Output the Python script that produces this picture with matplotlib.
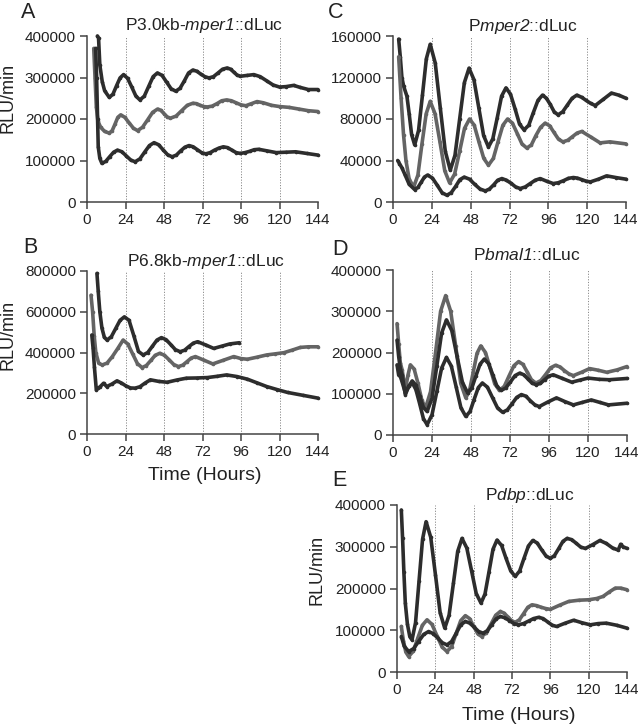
"""Bioluminescence traces, 5 reporters (A-E), 3 traces each."""

import matplotlib
matplotlib.use('Agg')
import matplotlib.pyplot as plt

plt.rcParams.update({
    'font.family': 'Liberation Sans',
    'mathtext.fontset': 'custom',
    'mathtext.rm': 'Liberation Sans:italic',
    'mathtext.it': 'Liberation Sans:italic',
    'font.size': 11,
    'xtick.labelsize': 11, 'ytick.labelsize': 11,
    'axes.linewidth': 1.1,
    'axes.edgecolor': '#444444',
    'xtick.color': '#444444', 'ytick.color': '#444444',
    'xtick.labelcolor': '#222222', 'ytick.labelcolor': '#222222',
    'xtick.major.size': 5, 'ytick.major.size': 5,
    'xtick.major.width': 1.1, 'ytick.major.width': 1.1,
})

W, H = 640, 727
DARK = '#2d2d2d'
GRAY = '#646464'
XTICKS = [0, 24, 48, 72, 96, 120, 144]

# ---- A: P3.0kb-mper1::dLuc ----
A_TOP_T = [6.5, 7.2, 8, 9.5, 11, 13.9, 16.2, 18.4, 20.6, 22.8, 25.3, 27.9, 30.5, 33, 35.7, 38.5,
           41.2, 43.9, 46.8, 49.6, 52.4, 55.3, 58, 60.7, 63.3, 66, 68.5, 71, 73.5, 76, 78.8,
           81.7, 84.5, 87.4, 89.5, 91.5, 93.5, 95.6, 99.8, 104, 108, 112, 116, 120, 124,
           128.8, 133, 138, 144]
A_TOP_V = [400000, 395000, 330000, 290000, 268000, 252000, 260000, 280000, 299000, 307000,
           298000, 277000, 255000, 246000, 255000, 279000, 302000, 311000, 305000, 289000,
           273000, 267000, 274000, 292000, 311000, 318000, 315000, 308000, 302000, 299000,
           302000, 311000, 320000, 323000, 320000, 313000, 306000, 303000, 305000, 307000,
           302000, 292000, 282000, 277000, 278000, 281000, 276000, 271000, 271000]
A_MID_T = [4.2, 5.0, 5.8, 6.8, 8.5, 11, 13.9, 15.7, 17.5, 19.2, 21, 23.6, 26.2, 28.9, 31.5,
           34.6, 37.8, 40.9, 44, 46, 48, 50, 52, 55.5, 59, 62.5, 66, 68.3, 70.5, 72.8, 75,
           78, 81, 84, 87, 90, 93, 96, 99, 102.5, 106, 110, 115, 120, 126, 132, 138, 144]
A_MID_V = [370000, 300000, 230000, 195000, 180000, 170000, 166000, 172000, 188000, 204000,
           210000, 204000, 191000, 178000, 172000, 180000, 198000, 216000, 224000, 221000,
           213000, 205000, 202000, 207000, 220000, 233000, 238000, 237000, 233000, 230000,
           229000, 231000, 237000, 244000, 246000, 244000, 239000, 234000, 232000, 237000,
           242000, 239000, 233000, 230000, 228000, 224000, 220000, 218000]
A_LOW_T = [5.4, 6.0, 6.6, 7.0, 8, 9.3, 11.7, 14.1, 16.6, 19, 21.8, 24.5, 27.3, 30, 33, 35.9,
           38.9, 41.8, 44.6, 47.4, 50.2, 53, 55.7, 58.3, 61, 63.6, 66.2, 68.8, 71.4, 74,
           76.8, 79.5, 82.3, 85, 87.7, 90.3, 93, 95.6, 98.5, 101.3, 104.2, 107, 112.5, 118,
           124, 130, 137, 144]
A_LOW_V = [370000, 300000, 200000, 133000, 105000, 93000, 98000, 109000, 120000, 125000,
           121000, 111000, 101000, 97000, 104000, 120000, 136000, 143000, 138000, 126000,
           114000, 109000, 113000, 123000, 132000, 136000, 133000, 126000, 119000, 116000,
           119000, 125000, 130000, 133000, 131000, 125000, 119000, 117000, 119000, 122000,
           126000, 127000, 123000, 119000, 120000, 121000, 117000, 113000]

# ---- B: P6.8kb-mper1::dLuc ----
B_TOP_T = [6.2, 7.0, 8, 9.3, 10.8, 12.5, 15.2, 17.9, 20.6, 23.3, 26.2, 29.2, 32.1, 35, 37.9,
           40.7, 43.6, 46.4, 49.3, 52.2, 55.1, 58, 60.8, 63.5, 66.3, 69, 74, 79, 84, 89, 95]
B_TOP_V = [788000, 700000, 600000, 520000, 475000, 461000, 478000, 518000, 558000, 575000,
           558000, 482000, 405000, 388000, 400000, 430000, 461000, 473000, 463000, 439000,
           414000, 404000, 411000, 429000, 446000, 453000, 437000, 420000, 431000, 442000,
           448000]
B_MID_T = [2.5, 3.5, 4.5, 5.5, 7.3, 9.5, 12.5, 15.8, 19.2, 22.5, 25.5, 28.4, 31.4, 34.3, 37,
           39.8, 42.5, 45.3, 48.2, 51.2, 54.1, 57, 59.7, 62.3, 65, 67.6, 73, 78.4, 85, 91.5,
           96, 100, 106, 112, 117, 122.7, 128, 133, 138, 144]
B_MID_V = [681000, 600000, 480000, 400000, 347000, 339000, 348000, 380000, 420000, 461000,
           441000, 394000, 346000, 326000, 336000, 361000, 386000, 396000, 387000, 364000,
           341000, 331000, 338000, 355000, 373000, 380000, 362000, 344000, 362000, 380000,
           370000, 367000, 377000, 388000, 393000, 399000, 412000, 425000, 428000, 428000]
B_LOW_T = [3, 3.8, 4.6, 5.8, 7, 8.3, 10.3, 12.3, 15.5, 18.7, 21.5, 24.3, 27.1, 30, 33, 36.2,
           39.5, 44.8, 50, 56, 62, 68.5, 75, 81, 87, 93.5, 100, 106, 112, 118.5, 125, 134.5,
           144]
B_LOW_V = [486000, 420000, 330000, 217000, 225000, 233000, 249000, 233000, 245000, 261000,
           250000, 236000, 226000, 225000, 232000, 250000, 266000, 258000, 254000, 265000,
           274000, 275000, 277000, 283000, 290000, 282000, 269000, 251000, 233000, 218000,
           204000, 190000, 176000]

# ---- C: Pmper2::dLuc ----
C_TOP_T = [3.5, 4.5, 5.5, 6.6, 8.6, 10, 11.5, 13.4, 15.8, 18.2, 20.6, 23, 26.1, 29.2, 32.3,
           35.4, 38.3, 41.2, 44.1, 47, 50, 53, 56, 59, 61.7, 64.4, 67.1, 69.8, 72.6, 75.4,
           78.2, 81, 83.9, 86.7, 89.6, 92.4, 94.8, 97.2, 99.6, 102, 104.9, 107.8, 110.7,
           113.6, 116.5, 119.3, 122.2, 125, 130, 135, 139.5, 144]
C_TOP_V = [157000, 140000, 120000, 111500, 102000, 85000, 65000, 55000, 69000, 103000,
           138000, 152000, 134000, 91000, 49000, 30700, 45000, 80000, 115000, 129000,
           118000, 91000, 64000, 53000, 61000, 81000, 102000, 110000, 104000, 90000, 75000,
           69500, 74000, 86000, 98000, 103000, 100000, 94000, 87000, 84000, 87000, 93500,
           100000, 103000, 101000, 98000, 95000, 93000, 99000, 105000, 103000, 100000]
C_MID_T = [3.5, 5, 6.5, 8, 10, 12.8, 15.4, 17.9, 20.5, 23, 26, 29, 32, 35, 38.1, 41.2, 44.2,
           47.3, 50.2, 53.1, 56.1, 59, 62, 64.9, 67.9, 70.8, 73.8, 76.8, 79.7, 82.7, 85.5,
           88.3, 91.2, 94, 96.8, 99.5, 102.3, 105, 108, 110.9, 113.8, 116.7, 122.4, 128,
           134, 144]
C_MID_V = [140000, 100000, 65000, 40000, 22000, 14500, 26000, 56000, 85000, 97000, 85000,
           58000, 30000, 18400, 27000, 49000, 71000, 80000, 74000, 58000, 42000, 35500,
           42000, 58000, 74000, 80000, 76000, 66000, 56000, 52000, 55000, 64000, 72000,
           76000, 73500, 67000, 60500, 58000, 59500, 63000, 66500, 68000, 62500, 57000,
           58000, 56000]
C_LOW_T = [2.9, 4, 5.5, 7.5, 10, 13.4, 15.4, 17.4, 19.4, 21.4, 24.4, 27.4, 30.3, 33.3, 36,
           38.7, 41.3, 44, 47.3, 50.5, 53.8, 57, 59.6, 62.2, 64.7, 67.3, 70.1, 73, 75.8,
           78.6, 81.7, 84.8, 87.9, 91, 95, 99, 102, 105.3, 108.4, 111.5, 114, 116.8, 119.5,
           122, 127, 132, 138, 144]
C_LOW_V = [40000, 37000, 33000, 26000, 17000, 12000, 14000, 19000, 24000, 26000, 23000,
           16000, 9000, 6500, 9000, 15000, 21500, 24000, 22000, 17000, 12500, 10700, 12500,
           16500, 21000, 22600, 21000, 18000, 14500, 13000, 14500, 17800, 21000, 22600,
           20000, 17800, 18500, 20500, 22800, 23600, 23000, 21500, 20000, 19400, 22000,
           25200, 23500, 22000]

# ---- D: Pbmal1::dLuc ----
D_TOP_T = [2.5, 3.5, 4.5, 5.6, 7.6, 9.2, 10.7, 13, 15.4, 17.7, 20, 23.1, 26.2, 29.3, 32.4,
           35.5, 38.6, 41.7, 44.8, 47.1, 49.4, 51.7, 54, 56.9, 59.8, 62.6, 65.5, 68.5, 71.4,
           74.4, 77.3, 80, 82.7, 85.3, 88, 91, 94, 97, 100, 102.8, 105.5, 108.3, 111, 116,
           121, 126.3, 131.6, 138, 144]
D_TOP_V = [270000, 220000, 175000, 158000, 110000, 145000, 170000, 160000, 125000, 85000,
           65000, 105000, 200000, 300000, 338000, 300000, 215000, 125000, 90000, 108000,
           153000, 198000, 216000, 200000, 162000, 124000, 108000, 118000, 143000, 168000,
           178000, 171000, 152000, 133000, 126000, 132000, 147000, 163000, 169000, 165000,
           156000, 148000, 144000, 152000, 161000, 157000, 152000, 158000, 166000]
D_MID_T = [2.5, 3.5, 4.5, 5.6, 7.6, 9.7, 11.8, 14.1, 16.4, 18.7, 21, 24, 27, 29.9, 32.9,
           36.2, 39.4, 42.7, 45.9, 48.5, 51, 53.6, 56.2, 58.8, 61.4, 63.9, 66.5, 69.4, 72.3,
           75.1, 78, 80.5, 83, 85.5, 88, 90.7, 93.3, 96, 98.6, 104.3, 110, 115, 120, 127,
           133, 144]
D_MID_V = [230000, 190000, 160000, 146000, 98000, 118000, 131000, 121000, 94000, 67000,
           57000, 89000, 168000, 247000, 279000, 253000, 191000, 128000, 102000, 114000,
           143000, 172000, 184000, 173000, 146000, 119000, 108000, 114000, 129000, 144000,
           150000, 146000, 136000, 126000, 122000, 125000, 134000, 143000, 146000, 137000,
           128000, 133000, 138000, 135000, 134000, 137000]
D_LOW_T = [2.5, 3.5, 4.5, 5.5, 7.6, 9.7, 11.8, 14.1, 16.4, 18.7, 21, 24, 27, 29.9, 32.9,
           35.9, 38.9, 41.8, 44.8, 47.4, 49.9, 52.5, 55, 58.1, 61.3, 64.4, 67.5, 70.4, 73.3,
           76.1, 79, 81.8, 84.5, 87.3, 90, 95.3, 100.6, 105.8, 111, 116.5, 122, 127.3,
           132.6, 144]
D_LOW_V = [170000, 145000, 142000, 130000, 102000, 118000, 127000, 110000, 76000, 40000,
           25000, 49000, 106000, 162000, 188000, 167000, 116000, 66000, 45000, 57000, 86000,
           115000, 126000, 116000, 90000, 65000, 55000, 61000, 76000, 91000, 98000, 94000,
           83000, 73000, 69000, 80000, 90000, 81000, 73000, 79000, 85000, 79000, 73000,
           77000]

# ---- E: Pdbp::dLuc ----
E_TOP_T = [2.7, 3.5, 4.3, 5.2, 6.5, 8, 9.4, 11.6, 13.8, 16, 18.2, 21.1, 24.1, 27, 29.9,
           32.6, 35.3, 38, 40.7, 43.7, 46.7, 49.6, 52.6, 55.1, 57.6, 60.1, 62.6, 65.5, 68.3,
           71.2, 74, 76.8, 79.5, 82.3, 85, 87.8, 90.5, 93.3, 96, 98.6, 101.3, 103.9, 106.5,
           109.4, 112.3, 115.1, 118, 122.5, 127, 131, 135, 138.5, 140, 141.5, 144]
E_TOP_V = [388000, 320000, 240000, 165000, 115000, 85000, 77000, 118000, 218000, 318000,
           360000, 323000, 232000, 142000, 105000, 136000, 212000, 289000, 320000, 297000,
           242000, 188000, 165000, 187000, 240000, 294000, 316000, 303000, 272000, 242000,
           229000, 242000, 272000, 302000, 315000, 309000, 293000, 278000, 272000, 279000,
           296000, 313000, 320000, 317000, 308000, 299000, 296000, 305000, 315000, 308000,
           297000, 292000, 306000, 300000, 296000]
E_MID_T = [2.7, 4, 5.5, 7.3, 10.2, 13, 15.9, 18.8, 21.9, 25, 28.2, 31.3, 34.2, 37, 39.9,
           42.8, 45.4, 47.9, 50.5, 53, 55.9, 58.9, 61.8, 64.7, 67, 69.4, 71.7, 74, 76.6,
           79.3, 81.9, 84.5, 87.4, 90.3, 93.1, 96, 101.8, 107.5, 114, 120, 125, 129, 133,
           136.7, 140, 144]
E_MID_V = [109000, 75000, 48000, 37000, 50000, 81000, 112000, 125000, 114000, 87000, 60000,
           49000, 61000, 92000, 123000, 135000, 128000, 110000, 92000, 85000, 94000, 115000,
           136000, 145000, 141000, 132000, 123000, 119000, 125000, 140000, 155000, 161000,
           159000, 155000, 152000, 150000, 160000, 169000, 172000, 173000, 176000, 181000,
           192000, 201000, 201000, 197000]
E_LOW_T = [2.7, 4.5, 7.3, 10.4, 13.5, 16.7, 19.8, 22.7, 25.6, 28.4, 31.3, 34.2, 37.1, 39.9,
           42.8, 45.6, 48.4, 51.1, 53.9, 56.6, 59.3, 62, 64.7, 67.5, 70.4, 73.2, 76, 79.2,
           82.4, 85.5, 88.7, 91.5, 94.3, 97.2, 100, 105.3, 110.6, 115.8, 121, 126, 131,
           137.5, 144]
E_LOW_V = [85000, 62000, 49000, 56000, 73000, 90000, 97000, 92000, 81000, 70000, 65000,
           73000, 93000, 113000, 121000, 117000, 107000, 97000, 93000, 99000, 113000,
           127000, 133000, 130000, 123000, 116000, 113000, 116000, 122000, 128000, 131000,
           128000, 120000, 112000, 109000, 117000, 124000, 118000, 113000, 116000, 117000,
           112000, 105000]


def add_axes_px(fig, left, top, right, bottom):
    return fig.add_axes([left / W, 1 - bottom / H, (right - left) / W, (bottom - top) / H])


def trace(ax, t, v, color):
    ax.plot(t, v, color=color, lw=2.6, marker='o', ms=2.6, mew=0,
            solid_capstyle='round', solid_joinstyle='round', clip_on=False, zorder=3)


def style(ax, ymax, yticks):
    ax.set_xlim(0, 144)
    ax.set_ylim(0, ymax)
    ax.set_xticks(XTICKS)
    ax.set_yticks(yticks)
    ax.set_yticklabels([str(y) for y in yticks])
    for s in ('top', 'right'):
        ax.spines[s].set_visible(False)
    for x in XTICKS[1:]:
        ax.axvline(x, color='#8a8a8a', lw=0.7, ls=(0, (1.2, 1.6)), zorder=1)
    ax.tick_params(pad=3)


fig = plt.figure(figsize=(W / 100, H / 100), dpi=100)

# A
ax = add_axes_px(fig, 87, 36, 318, 202)
trace(ax, A_TOP_T, A_TOP_V, DARK)
trace(ax, A_MID_T, A_MID_V, GRAY)
trace(ax, A_LOW_T, A_LOW_V, DARK)
style(ax, 400000, [0, 100000, 200000, 300000, 400000])

# C
ax = add_axes_px(fig, 393, 36, 626, 202)
trace(ax, C_TOP_T, C_TOP_V, DARK)
trace(ax, C_MID_T, C_MID_V, GRAY)
trace(ax, C_LOW_T, C_LOW_V, DARK)
style(ax, 160000, [0, 40000, 80000, 120000, 160000])

# B
ax = add_axes_px(fig, 87, 271, 318, 434)
trace(ax, B_TOP_T, B_TOP_V, DARK)
trace(ax, B_MID_T, B_MID_V, GRAY)
trace(ax, B_LOW_T, B_LOW_V, DARK)
style(ax, 800000, [0, 200000, 400000, 600000, 800000])

# D
ax = add_axes_px(fig, 393, 270, 627, 435)
trace(ax, D_TOP_T, D_TOP_V, GRAY)
trace(ax, D_MID_T, D_MID_V, DARK)
trace(ax, D_LOW_T, D_LOW_V, DARK)
style(ax, 400000, [0, 100000, 200000, 300000, 400000])

# E
ax = add_axes_px(fig, 397, 505, 627, 672)
trace(ax, E_TOP_T, E_TOP_V, DARK)
trace(ax, E_MID_T, E_MID_V, GRAY)
trace(ax, E_LOW_T, E_LOW_V, DARK)
style(ax, 400000, [0, 100000, 200000, 300000, 400000])

# panel letters
for letter, x, y in [('A', 21, 18), ('B', 23, 253), ('C', 328, 18),
                     ('D', 332, 255), ('E', 332, 486)]:
    fig.text(x / W, 1 - y / H, letter, fontsize=15.5, ha='left', va='baseline',
             color='#222222')

# titles
for txt, x, y in [(r'P3.0kb-$\mathit{mper1}$::dLuc', 125, 30),
                  (r'P$\mathit{mper2}$::dLuc', 468, 31),
                  (r'P6.8kb-$\mathit{mper1}$::dLuc', 127, 266),
                  (r'P$\mathit{bmal1}$::dLuc', 473, 260),
                  (r'P$\mathit{dbp}$::dLuc', 485, 500)]:
    fig.text(x / W, 1 - y / H, txt, fontsize=12.5, ha='left', va='baseline',
             color='#222222')

# y labels
for x, y in [(8, 98), (8, 335), (317, 570)]:
    fig.text(x / W, 1 - y / H, 'RLU/min', fontsize=13, rotation=90,
             ha='center', va='center', color='#222222')

# x labels
for x, y in [(205, 476), (519, 715)]:
    fig.text(x / W, 1 - y / H, 'Time (Hours)', fontsize=14, ha='center',
             va='center', color='#222222')

fig.savefig('out.png', dpi=100)
plt.close(fig)
